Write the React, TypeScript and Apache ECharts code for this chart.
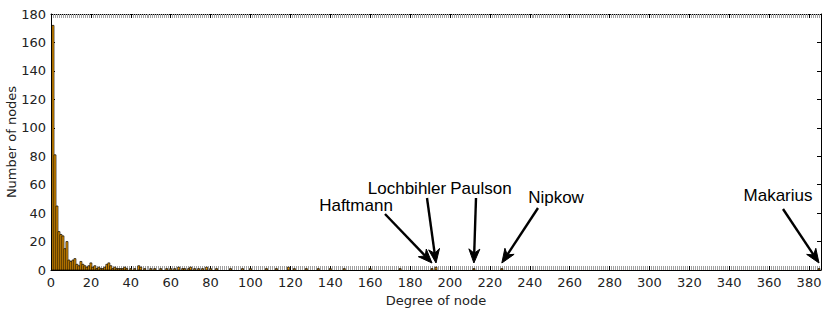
import React, { useEffect, useRef } from "react";
import * as echarts from "echarts";

// Histogram data: degree of node -> number of nodes (only non-zero bins)
const degrees = [
  1, 2, 3, 4, 5, 6, 7, 8, 9, 10, 11, 12, 13, 14, 15, 16, 17, 18, 19, 20,
  21, 22, 23, 24, 25, 26, 27, 28, 29, 30, 31, 32, 33, 34, 35, 36, 37, 38, 40, 42,
  44, 45, 47, 50, 52, 55, 58, 60, 62, 64, 66, 67, 69, 70, 72, 74, 76, 78, 80, 83,
  90, 96, 100, 108, 113, 119, 122, 128, 134, 140, 147, 160, 175, 191, 193, 212, 226, 385,
];
const counts = [
  172, 81, 45, 27, 25, 24, 15, 20, 7, 6, 7, 8, 4, 3, 6, 4, 3, 2, 3, 5,
  2, 3, 1, 2, 1, 1, 2, 4, 5, 3, 1, 2, 1, 1, 1, 1, 2, 1, 1, 1,
  3, 2, 1, 1, 1, 1, 1, 1, 1, 2, 1, 1, 1, 2, 1, 1, 1, 2, 1, 1,
  1, 1, 1, 1, 1, 2, 1, 1, 1, 1, 1, 1, 1, 1, 2, 1, 1, 1,
];

const xMin = 0;
const xMax = 386;
const yMin = 0;
const yMax = 180;
const xTickStep = 20;
const yTickStep = 20;

const xTitle = "Degree of node";
const yTitle = "Number of nodes";

const annotationNames = ["Haftmann", "Lochbihler", "Paulson", "Nipkow", "Makarius"];
const annotationDegrees = [191, 193, 212, 226, 385];

// layout of the annotation labels (pixel positions of text centre and arrow tail)
const annotationLayout = [
  { tx: 356, ty: 205, sx: 385, sy: 214 },
  { tx: 407, ty: 188, sx: 427, sy: 198 },
  { tx: 481, ty: 188, sx: 476, sy: 198 },
  { tx: 556, ty: 197, sx: 538, sy: 208 },
  { tx: 778, ty: 195, sx: 783, sy: 209 },
];

const AXIS_FONT = "DejaVu Sans";

export default function App() {
  const ref = useRef<HTMLDivElement>(null);

  useEffect(() => {
    document.body.style.margin = "0";
    if (!ref.current) return;
    const chart = echarts.init(ref.current, null, { renderer: "svg" });

    const xCommon = {
      type: "value" as const,
      min: xMin,
      max: xMax,
      interval: xTickStep,
      splitLine: { show: false },
      axisLine: { show: true, onZero: false, lineStyle: { color: "#000", width: 1 } },
      axisTick: { show: true, inside: true, length: 4, lineStyle: { color: "#000", width: 1 } },
      minorTick: { show: true, splitNumber: 20, length: 4, lineStyle: { color: "#a0a0a0", width: 1 } },
      minorSplitLine: { show: false },
    };
    const yCommon = {
      type: "value" as const,
      min: yMin,
      max: yMax,
      interval: yTickStep,
      splitLine: { show: false },
      axisLine: { show: true, onZero: false, lineStyle: { color: "#000", width: 1 } },
      axisTick: { show: true, inside: true, length: 4, lineStyle: { color: "#000", width: 1 } },
    };

    const data = degrees.map((d, i) => [d, counts[i]]);

    chart.setOption({
      animation: false,
      backgroundColor: "#fff",
      grid: { left: 51, right: 9, top: 14, bottom: 40, containLabel: false, outerBoundsMode: "none" },
      xAxis: [
        {
          ...xCommon,
          position: "bottom",
          name: xTitle,
          nameLocation: "middle",
          nameGap: 22,
          nameTextStyle: { fontFamily: AXIS_FONT, fontSize: 13, color: "#222" },
          axisLabel: { show: true, margin: 6, fontFamily: AXIS_FONT, fontSize: 13, color: "#222" },
        },
        { ...xCommon, position: "top", axisLabel: { show: false } },
      ],
      yAxis: [
        {
          ...yCommon,
          position: "left",
          axisLabel: { show: true, margin: 5, fontFamily: AXIS_FONT, fontSize: 13, color: "#222" },
        },
        { ...yCommon, position: "right", axisLabel: { show: false } },
      ],
      series: [
        {
          type: "custom",
          xAxisIndex: 0,
          yAxisIndex: 0,
          clip: true,
          data,
          renderItem: (params: any, api: any) => {
            const x = api.value(0);
            const y = api.value(1);
            const p0 = api.coord([x - 0.5, 0]);
            const p1 = api.coord([x + 0.5, y]);
            return {
              type: "rect",
              shape: { x: p0[0], y: p1[1], width: p1[0] - p0[0], height: p0[1] - p1[1] },
              style: { fill: "#FFA500", stroke: "#000", lineWidth: 0.7 },
            };
          },
        },
      ],
    });

    const graphics: any[] = [
      {
        type: "text",
        x: 11,
        y: 142,
        rotation: Math.PI / 2,
        style: {
          text: yTitle,
          fontFamily: AXIS_FONT,
          fontSize: 13,
          fill: "#222",
          align: "center",
          verticalAlign: "middle",
        },
      },
    ];
    annotationNames.forEach((name, i) => {
      const lay = annotationLayout[i];
      const tip = chart.convertToPixel({ xAxisIndex: 0, yAxisIndex: 0 }, [annotationDegrees[i], 0]) as number[];
      const tx = Math.min(tip[0], 820);
      const ty = tip[1] - 7;
      const dx = tx - lay.sx;
      const dy = ty - lay.sy;
      const len = Math.sqrt(dx * dx + dy * dy);
      const ux = dx / len;
      const uy = dy / len;
      const nx = -uy;
      const ny = ux;
      const L = 14;
      const W = 11;
      const bx = tx - ux * L;
      const by = ty - uy * L;
      const mx = tx - ux * L * 0.7;
      const my = ty - uy * L * 0.7;
      graphics.push({
        type: "text",
        x: lay.tx,
        y: lay.ty,
        style: {
          text: name,
          fontFamily: "Liberation Sans",
          fontSize: 17,
          fill: "#000",
          align: "center",
          verticalAlign: "middle",
        },
      });
      graphics.push({
        type: "line",
        shape: { x1: lay.sx, y1: lay.sy, x2: mx, y2: my },
        style: { stroke: "#000", lineWidth: 2.4 },
      });
      graphics.push({
        type: "polygon",
        shape: {
          points: [
            [tx, ty],
            [bx + nx * W / 2, by + ny * W / 2],
            [mx, my],
            [bx - nx * W / 2, by - ny * W / 2],
          ],
        },
        style: { fill: "#000", stroke: "#000", lineWidth: 1 },
      });
    });
    chart.setOption({ graphic: graphics });

    return () => chart.dispose();
  }, []);

  return <div ref={ref} style={{ width: 830, height: 310 }} />;
}
